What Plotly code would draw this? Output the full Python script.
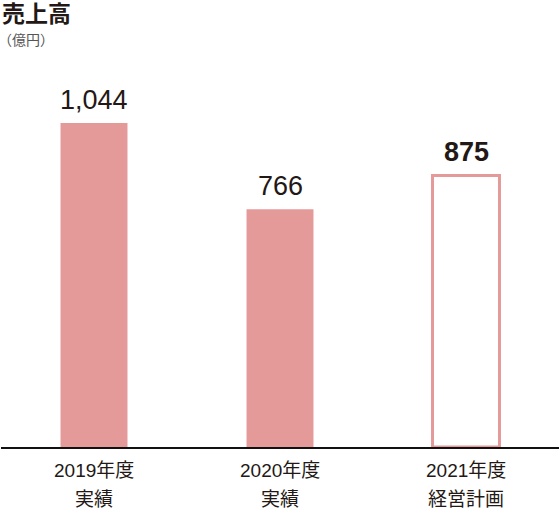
import plotly.graph_objects as go

years = ['2019年度', '2020年度', '2021年度']
kinds = ['実績', '実績', '経営計画']
sales = [1044, 766, 875]
value_labels = ['1,044', '766', '875']
is_plan = [False, False, True]

PINK = '#e59a9a'
DARK = '#231815'
FONT = 'Liberation Sans, Noto Sans CJK JP'
JP_FONT = 'Noto Sans CJK JP'

fills = ['white' if p else PINK for p in is_plan]
line_widths = [3 if p else 0 for p in is_plan]

fig = go.Figure(go.Bar(
    x=years, y=sales,
    width=0.36,
    marker=dict(color=fills, line=dict(color=PINK, width=line_widths)),
    hoverinfo='skip',
))

for yr, val, label, plan in zip(years, sales, value_labels, is_plan):
    txt = f'<b>{label}</b>' if plan else label
    fig.add_annotation(x=yr, y=val, text=txt, showarrow=False,
                       yanchor='bottom', yshift=6,
                       font=dict(size=27, color=DARK, family=FONT))

# category labels, two rows under the axis
for yr, kind in zip(years, kinds):
    fig.add_annotation(x=yr, y=0, yref='paper', text=yr, showarrow=False,
                       yanchor='middle', yshift=-23,
                       font=dict(size=19, color=DARK, family=FONT))
    fig.add_annotation(x=yr, y=0, yref='paper', text=kind, showarrow=False,
                       yanchor='middle', yshift=-50,
                       font=dict(size=19, color=DARK, family=JP_FONT))

fig.add_annotation(x=0, y=1, xref='paper', yref='paper', xanchor='left', yanchor='middle',
                   text='<b>売上高</b>', showarrow=False, xshift=-1, yshift=-12,
                   font=dict(size=23, color=DARK, family=JP_FONT))
fig.add_annotation(x=0, y=1, xref='paper', yref='paper', xanchor='left', yanchor='middle',
                   text='（億円）', showarrow=False, xshift=-5, yshift=-39,
                   font=dict(size=14, color='#555555', family=JP_FONT))

fig.update_layout(
    width=560, height=510,
    margin=dict(l=1, r=1, t=0, b=63),
    paper_bgcolor='white', plot_bgcolor='white',
    showlegend=False,
    font=dict(family=FONT, color=DARK),
    xaxis=dict(range=[-0.5, 2.5], showline=True, linecolor='#111111', linewidth=2,
               showgrid=False, ticks='', showticklabels=False),
    yaxis=dict(range=[0, 1440], visible=False, showgrid=False, zeroline=False),
)

fig.write_html('out.html', config={'displayModeBar': False},
               post_script="document.body.style.margin='0';")
